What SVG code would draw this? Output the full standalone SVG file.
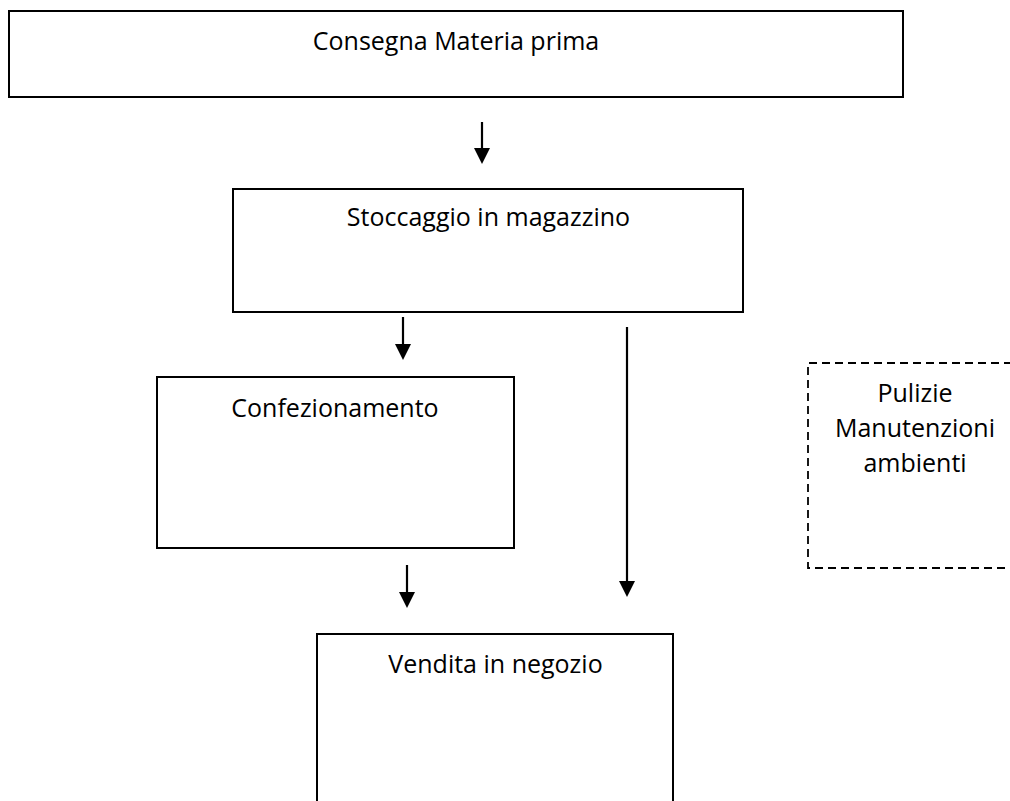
<svg xmlns="http://www.w3.org/2000/svg" width="1010" height="801" viewBox="0 0 1010 801">
<style>
.box{fill:#fff;stroke:#000;stroke-width:2}
.dash{fill:none;stroke:#000;stroke-width:1.8;stroke-dasharray:8,5}
.lbl{font-family:"Open Sans","Liberation Sans",sans-serif;font-size:25px;fill:#000;text-anchor:middle}
.conn{stroke:#000;stroke-width:2.2;fill:none}
</style>
<defs>
<marker id="ah" markerUnits="userSpaceOnUse" markerWidth="16" markerHeight="16" viewBox="0 0 16 16" refX="0" refY="8" orient="auto">
<path d="M0,0 L16,8 L0,16 z" fill="#000"/>
</marker>
</defs>
<rect width="1010" height="801" fill="#fff"/>
<g id="n1"><rect class="box" x="9" y="11" width="894" height="86"/><text class="lbl" x="456" y="50">Consegna Materia prima</text></g>
<g id="n2"><rect class="box" x="233" y="189" width="510" height="123"/><text class="lbl" x="488.5" y="226">Stoccaggio in magazzino</text></g>
<g id="n3"><rect class="box" x="157" y="377" width="357" height="171"/><text class="lbl" x="335" y="417">Confezionamento</text></g>
<g id="n4"><rect class="box" x="317" y="634" width="356" height="180"/><text class="lbl" x="495.5" y="673">Vendita in negozio</text></g>
<g id="n5"><path class="dash" d="M1012,363 H808 V568 H1012"/><text class="lbl" x="915" y="402">Pulizie</text><text class="lbl" x="915" y="437">Manutenzioni</text><text class="lbl" x="915" y="472">ambienti</text></g>
<g id="connectors">
<line class="conn" x1="482" y1="122" x2="482" y2="148" marker-end="url(#ah)"/>
<line class="conn" x1="403" y1="317" x2="403" y2="344" marker-end="url(#ah)"/>
<line class="conn" x1="627" y1="327" x2="627" y2="581" marker-end="url(#ah)"/>
<line class="conn" x1="407" y1="565" x2="407" y2="592" marker-end="url(#ah)"/>
</g>
</svg>
